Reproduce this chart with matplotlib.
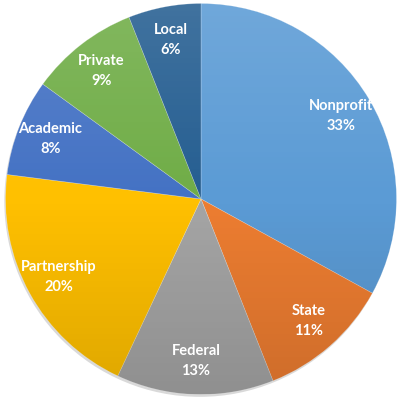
import numpy as np
import matplotlib
matplotlib.use("Agg")
import matplotlib.pyplot as plt
from matplotlib.patches import Circle

categories = ["Nonprofit", "State", "Federal", "Partnership", "Academic", "Private", "Local"]
values = [33, 11, 13, 20, 8, 9, 6]
colors = ["#5B9BD5", "#ED7D31", "#A5A5A5", "#FFC000", "#4472C4", "#70AD47", "#255E91"]

W, H = 400, 397
cx, cy, r = 201.0, 199.0, 195.5

fig = plt.figure(figsize=(W / 100, H / 100), dpi=100)
ax = fig.add_axes([0, 0, 1, 1])
ax.axis("off")

total = sum(values)
labels = [f"{c}\n{round(v / total * 100)}%" for c, v in zip(categories, values)]

# faint shadow
shadow = Circle((-0.006, -0.012), 1.0, facecolor="#d9d9d9", edgecolor="none", zorder=0)
ax.add_patch(shadow)

wedges, texts = ax.pie(values, colors=colors, startangle=90, counterclock=False,
                       labels=labels, labeldistance=0.83, radius=1.0,
                       wedgeprops=dict(linewidth=0.4, edgecolor=(1, 1, 1, 0.35)),
                       textprops=dict(color="white", fontsize=10.5, fontweight="bold",
                                      family=["Lato", "DejaVu Sans"],
                                      ha="center", va="center", linespacing=1.55),
                       frame=False)

for t in texts:
    t.set_horizontalalignment("center")
    t.set_zorder(10)

# vertical gradient overlay: lighter at top, darker at bottom
n = 256
yy = np.linspace(1, -1, n)
grad = np.zeros((n, 2, 4))
for i, y in enumerate(yy):
    if y > 0:
        grad[i, :, :3] = 1.0
        grad[i, :, 3] = 0.13 * y
    else:
        grad[i, :, :3] = 0.0
        grad[i, :, 3] = 0.13 * (-y)
im = ax.imshow(grad, extent=(-1, 1, -1, 1), origin="upper", aspect="auto", zorder=5,
               interpolation="bilinear")
clip = Circle((0, 0), 1.0, transform=ax.transData)
im.set_clip_path(clip)
ax.set_aspect("auto")
ax.set_xlim(-cx / r, (W - cx) / r)
ax.set_ylim(-(H - cy) / r, cy / r)

fig.savefig("out.png", dpi=100)
